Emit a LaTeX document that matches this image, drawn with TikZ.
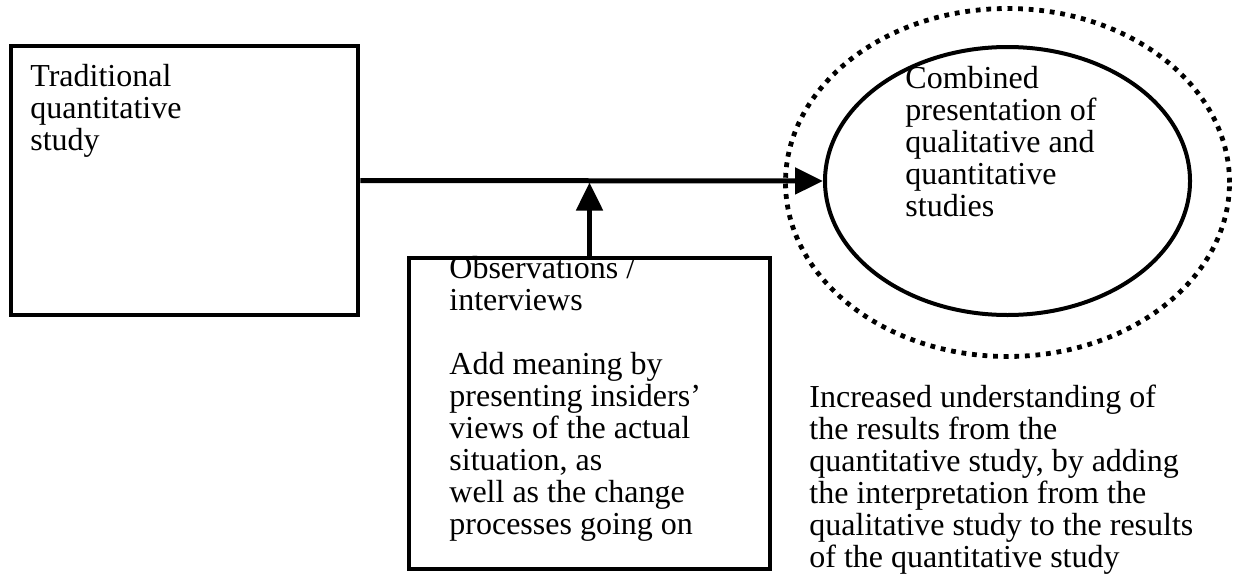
\documentclass[tikz,border=0pt]{standalone}
\usepackage{fontspec}
\setmainfont{Liberation Serif}
\usetikzlibrary{shapes.geometric,arrows.meta}
\tikzset{
  boxnode/.style={draw, line width=2.25pt, rectangle, inner sep=0pt},
  ellnode/.style={draw, line width=2pt, ellipse, inner sep=0pt},
  dotell/.style={draw, line width=2.4pt, ellipse, inner sep=0pt, dash pattern=on 2.4pt off 2.9pt},
  txt/.style={inner sep=0pt, anchor=north west, align=left, font=\fontsize{16pt}{16pt}\selectfont},
  arr/.style={line width=2.5pt, -{Triangle[length=14pt,width=13pt]}}
}
\begin{document}
\begin{tikzpicture}[x=0.5pt,y=-0.5pt]
\useasboundingbox (0,0) rectangle (1240,573);
\node[boxnode, minimum width=173.5pt, minimum height=134.5pt] (trad) at (184.5,180.5) {};
\node[boxnode, minimum width=180.5pt, minimum height=155.5pt] (obs) at (589.5,413.5) {};
\node[ellnode, minimum width=182.5pt, minimum height=134pt] (comb) at (1007.5,181) {};
\node[dotell, minimum width=222pt, minimum height=174pt] (outer) at (1007.5,182.5) {};
\node[txt] (tradtxt) at (30,64) {Traditional\\quantitative\\study};
\node[txt] (obstxt) at (449,256) {Observations /\\interviews\\[16pt]Add meaning by\\presenting insiders’\\views of the actual\\situation, as\\well as the change\\processes going on};
\node[txt] (combtxt) at (905,66) {Combined\\presentation of\\qualitative and\\quantitative\\studies};
\node[txt] (restxt) at (809,385) {Increased understanding of\\the results from the\\quantitative study, by adding\\the interpretation from the\\qualitative study to the results\\of the quantitative study};
\draw[arr] (trad.east) -- (comb.west);
\draw[arr, shorten >=1pt] (obs.north) -- (obs.north |- trad.east);
\end{tikzpicture}
\end{document}
